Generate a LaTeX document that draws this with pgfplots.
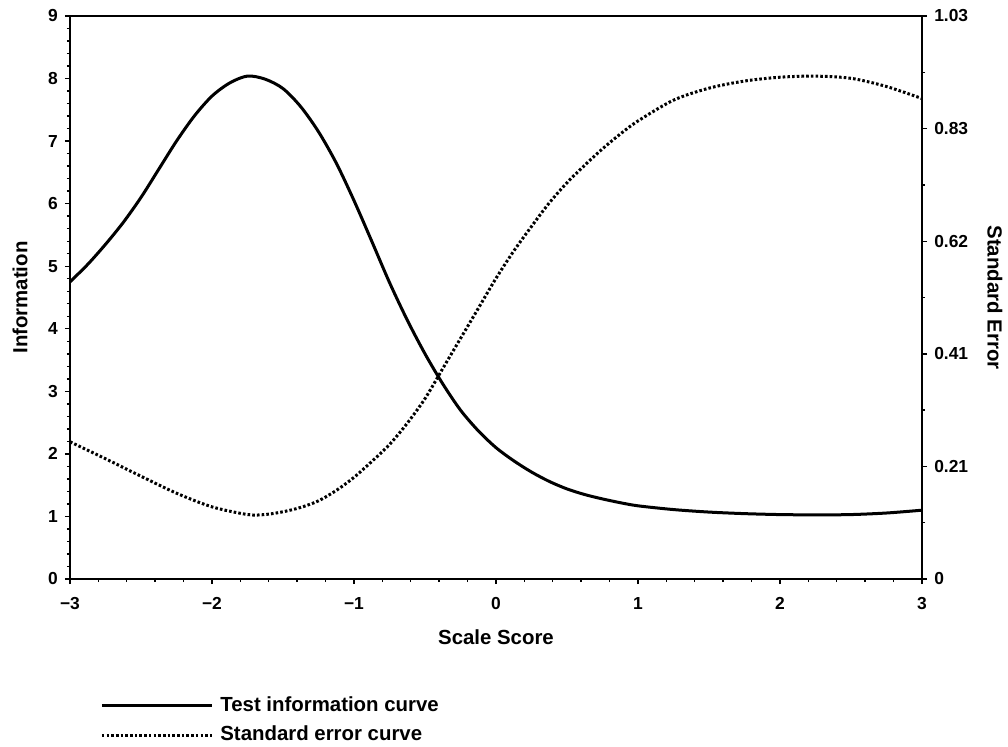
\documentclass[border=0pt]{standalone}
\usepackage{fontspec}
\setmainfont{Liberation Sans}
\usepackage{pgfplots}
\pgfplotsset{compat=1.18}
\begin{document}
\begin{tikzpicture}
\pgfplotsset{
  common/.style={
    scale only axis, width=426pt, height=281.5pt,
    xmin=-3, xmax=3,
    tick align=outside,
    major tick length=2.6pt, minor tick length=1.6pt,
    tick style={black, line width=0.7pt},
    /pgf/number format/assume math mode=true,
    tick label style={font=\fontsize{8.7}{10}\selectfont\bfseries},
    label style={font=\fontsize{10.2}{12}\selectfont\bfseries},
  }
}
\begin{axis}[common, name=a,
  ymin=0, ymax=9,
  axis x line*=bottom, axis y line*=left,
  axis line style={-, line width=1.2pt},
  xtick={-3,-2,-1,0,1,2,3},
  xticklabels={−3,−2,−1,0,1,2,3},
  xticklabel style={yshift=-3pt},
  minor x tick num=4,
  ytick={0,1,2,3,4,5,6,7,8,9},
  minor y tick num=4,
  xtick pos=left, ytick pos=left,
  xlabel={Scale Score},
  ylabel={Information},
  xlabel style={at={(axis description cs:0.5,-0.1042)}, anchor=center},
  ylabel style={at={(axis description cs:-0.0587,0.5)}, anchor=center},
]
\addplot[black, line width=1.5pt, smooth] coordinates {
(-3,4.75) (-2.875,5.03) (-2.75,5.35) (-2.625,5.70) (-2.5,6.10) (-2.375,6.55)
(-2.25,7.00) (-2.125,7.40) (-2.0,7.72) (-1.875,7.93) (-1.75,8.04) (-1.625,7.99)
(-1.5,7.84) (-1.375,7.55) (-1.25,7.15) (-1.125,6.65) (-1.0,6.05) (-0.875,5.40)
(-0.75,4.74) (-0.625,4.14) (-0.5,3.60) (-0.375,3.12) (-0.25,2.70) (-0.125,2.37)
(0.0,2.10) (0.125,1.89) (0.25,1.71) (0.375,1.56) (0.5,1.44) (0.625,1.35)
(0.75,1.28) (0.875,1.22) (1.0,1.17) (1.25,1.11) (1.5,1.07) (1.75,1.045)
(2.0,1.03) (2.25,1.025) (2.5,1.03) (2.75,1.055) (3.0,1.10)
};
\end{axis}
\begin{axis}[common,
  ymin=0, ymax=1.03,
  axis x line*=top, axis y line*=right,
  axis line style={-, line width=0.6pt},
  xtick=\empty,
  ytick={0,0.206,0.412,0.618,0.824,1.03},
  yticklabels={0,0.21,0.41,0.62,0.83,1.03},
  minor y tick num=1,
  ytick pos=right,
  ylabel={Standard Error},
  ylabel style={at={(axis description cs:1.0857,0.5)}, anchor=center, rotate=180},
  legend style={at={(axis description cs:0.0352,-0.2025)}, anchor=north west,
    draw=none, fill=none, inner sep=0pt, row sep=3pt,
    font=\fontsize{10.2}{12}\selectfont\bfseries,
    nodes={inner sep=1.5pt}},
  legend cell align=left,
  legend image code/.code={\draw[#1] (0pt,0pt) -- (55pt,0pt);},
]
\addlegendimage{black, line width=1.5pt}
\addlegendentry{\hspace{2pt}Test information curve}
\addplot[black, line width=1.5pt, dash pattern=on 1.3pt off 1.05pt, smooth] coordinates {
(-3,0.251) (-2.75,0.220) (-2.5,0.188) (-2.25,0.157) (-2.0,0.132) (-1.75,0.118)
(-1.625,0.118) (-1.5,0.123) (-1.375,0.131) (-1.25,0.143) (-1.125,0.162)
(-1.0,0.186) (-0.875,0.215) (-0.75,0.246)
(-0.625,0.285) (-0.5,0.330) (-0.375,0.385) (-0.25,0.440) (-0.125,0.495)
(0.0,0.550) (0.125,0.600) (0.25,0.645) (0.375,0.688) (0.5,0.725) (0.625,0.757)
(0.75,0.787) (0.875,0.814) (1.0,0.838) (1.25,0.876)
(1.5,0.898) (1.75,0.911) (2.0,0.918) (2.25,0.920) (2.5,0.916) (2.75,0.901) (3.0,0.879)
};
\addlegendentry{\hspace{2pt}Standard error curve}
\end{axis}
\pgfresetboundingbox
\path ([shift={(-35pt,-83.5pt)}]a.south west) rectangle ([shift={(469pt,289.5pt)}]a.south west);
\end{tikzpicture}
\end{document}
